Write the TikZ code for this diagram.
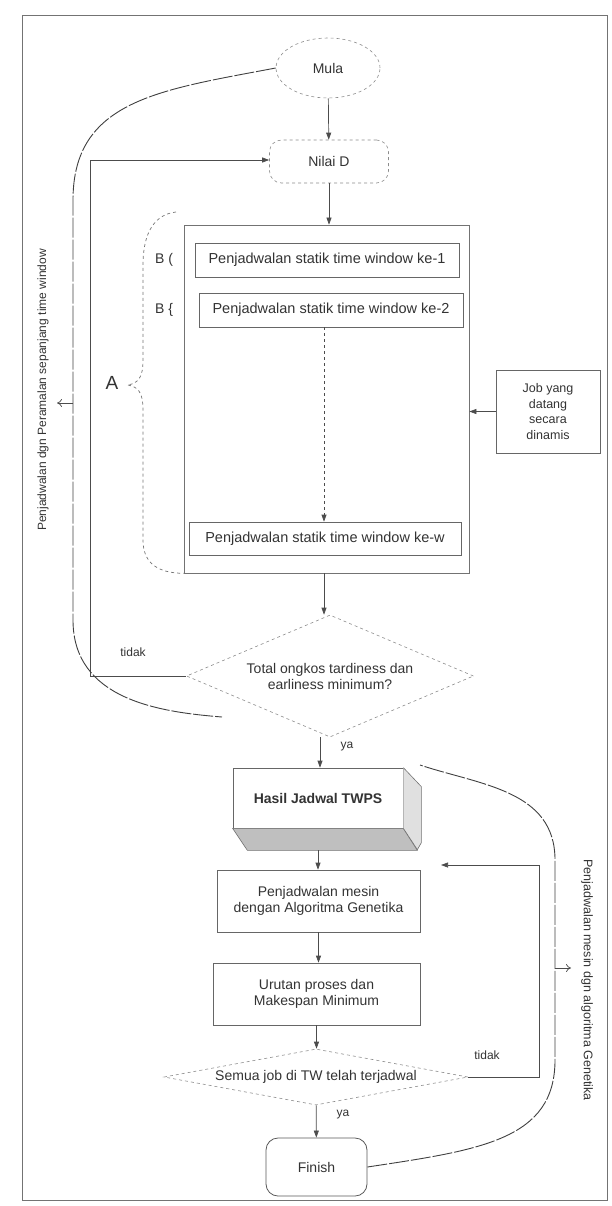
\documentclass[tikz,border=0pt]{standalone}
\usepackage{fontspec}
\setmainfont{Liberation Sans}
\usetikzlibrary{shapes.geometric,arrows.meta}
\begin{document}
\begin{tikzpicture}[x=1pt,y=-1pt,
  every node/.style={font=\fontsize{14}{16}\selectfont, text=black!80},
  box/.style={draw=black!60, line width=0.7pt, minimum width=#1, inner sep=2pt, align=center},
  box/.default=200pt,
  dbox/.style={draw=black!45, dashed, line width=0.6pt, inner sep=1pt, align=center},
  arr/.style={draw=black!70, line width=0.7pt, -{Triangle[length=7pt,width=5pt]}},
  ln/.style={draw=black!70, line width=0.7pt},
  fb/.style={draw=black!75, line width=0.9pt, dash pattern=on 20pt off 2pt},
  opn/.style={draw=black!70, line width=0.7pt, -{To[length=5pt,width=8pt]}},
  lbl/.style={font=\fontsize{12}{14}\selectfont}
]
\useasboundingbox (0,0) rectangle (612,1206);
% outer frame
\draw[draw=black!55, line width=0.8pt] (22,15) rectangle (607,1200);

% nodes
\node[dbox, ellipse, minimum width=104pt, minimum height=60pt] (mula) at (328,68) {Mula};
\node[dbox, rounded corners=12pt, minimum width=119pt, minimum height=43pt] (nilai) at (329,161.5) {Nilai D};
\node[draw=black!55, line width=0.7pt, minimum width=285pt, minimum height=348pt, inner sep=0pt] (big) at (326.5,399) {};
\node[box=264pt, minimum height=34pt, font=\fontsize{14.5}{16}\selectfont] (b1) at (327,260) {Penjadwalan statik time window ke-1};
\node[box=264pt, minimum height=34pt, font=\fontsize{14.5}{16}\selectfont] (b2) at (331,310) {Penjadwalan statik time window ke-2};
\node[box=272pt, minimum height=33pt, font=\fontsize{14.5}{16}\selectfont] (bw) at (325,538.5) {Penjadwalan statik time window ke-w};
\node[box=104pt, minimum height=83pt, font=\fontsize{12.5}{15.5}\selectfont] (job) at (548,411.5) {Job yang\\datang\\secara\\dinamis};
\node[dbox, diamond, aspect=2.35, minimum width=287pt, minimum height=122pt, inner sep=0pt] (d1) at (330,676) {Total ongkos tardiness dan\\earliness minimum?};
\node[draw=black!60, line width=0.7pt, minimum width=170pt, minimum height=60pt, font=\fontsize{14}{16}\selectfont\bfseries] (hasil) at (318,798) {Hasil Jadwal TWPS};
\node[box=203pt, minimum height=62pt] (mesin) at (318.5,901) {Penjadwalan mesin\\dengan Algoritma Genetika};
\node[box=207pt, minimum height=62pt] (urutan) at (316.5,994) {Urutan proses dan\\Makespan Minimum};
\node[dbox, diamond, aspect=5.4, minimum width=304pt, minimum height=56pt, inner sep=0pt] (d2) at (316,1077) {Semua job di TW telah terjadwal};
\node[draw=black!65, line width=0.8pt, rounded corners=12pt, minimum width=101pt, minimum height=58pt] (finish) at (316.5,1167) {Finish};

% 3D bevel of Hasil
\fill[black!25] (hasil.south west) -- (hasil.south east) -- ++(14,22) -- ++(-170,0) -- cycle;
\draw[draw=black!55, line width=0.6pt] (hasil.south west) -- (hasil.south east) -- ++(14,22) -- ++(-170,0) -- cycle;
\fill[black!12] (hasil.north east) -- ++(18,19) -- ++(0,56) -- ++(-4,7) -- (hasil.south east) -- cycle;
\draw[draw=black!55, line width=0.6pt] (hasil.north east) -- ++(18,19) -- ++(0,56) -- ++(-4,7) -- (hasil.south east);
\coordinate (hasilbot) at (318,850);

% labels
\node (lB1) at (164,260) {B (};
\node (lB2) at (164,310) {B \{};
\node[font=\fontsize{19}{21}\selectfont] (lA) at (112,383) {A};
\node[lbl] (ltidak1) at (133,652) {tidak};
\node[lbl] (lya1) at (347,747) {ya};
\node[lbl] (ltidak2) at (487,1055) {tidak};
\node[lbl] (lya2) at (343,1115) {ya};
\node[rotate=90, font=\fontsize{12}{14}\selectfont] (lleft) at (43,390) {Penjadwalan dgn Peramalan sepanjang time window};
\node[rotate=-90, font=\fontsize{12.5}{14}\selectfont] (lright) at (587,980) {Penjadwalan mesin dgn algoritma Genetika};

% brace A
\coordinate (brtop) at (176,212);
\coordinate (brtip) at (128,385);
\draw[draw=black!55, dashed, line width=0.7pt] (brtop) .. controls (150,215) and (143,240) .. (143,265) -- (143,360) .. controls (143,378) and (138,383) .. (brtip);
\draw[draw=black!55, dashed, line width=0.7pt] (brtip) .. controls (138,387) and (143,392) .. (143,410) -- (143,540) .. controls (143,565) and (160,573) .. (big.south west);

% main arrows
\draw[arr] (mula) -- (nilai);
\draw[arr] (nilai) -- (nilai |- big.north);
\draw[arr, dashed] (b2.south -| 324,0) -- (bw.north -| 324,0);
\draw[arr] (job.west) -- (big.east |- job.west);
\draw[arr] (big.south -| 324,0) -- (d1.north -| 324,0);
\draw[arr] (d1.south -| 320,0) -- (hasil.north -| 320,0);
\draw[arr] (hasilbot) -- (hasilbot |- mesin.north);
\draw[arr] (mesin) -- (mesin |- urutan.north);
\draw[arr] (urutan) -- (urutan |- d2.north);
\draw[arr] (d2) -- (finish);

% tidak loop top
\coordinate (t1a) at (90,676);
\coordinate (t1b) at (90,160);
\draw[arr] (d1.west) -- (t1a) -- (t1b) -- (nilai.west |- t1b);

% tidak loop bottom
\coordinate (t2a) at (539,1077);
\coordinate (t2b) at (539,865);
\coordinate (t2c) at (441,865);
\draw[arr] (d2.east) -- (t2a) -- (t2b) -- (t2c);

% big feedback curves
\coordinate (fbend1) at (222,717);
\draw[fb] (mula.west) .. controls (160,90) and (73,100) .. (73,200) -- (73,620) .. controls (73,700) and (160,712) .. (fbend1);
\coordinate (la) at (73,403);
\coordinate (lb) at (57,403);
\draw[opn] (la) -- (lb);

\coordinate (fbend2) at (420,765);
\draw[fb] (finish.east) .. controls (480,1150) and (555,1140) .. (555,1060) -- (555,860) .. controls (555,790) and (480,785) .. (fbend2);
\coordinate (ra) at (555,968);
\coordinate (rb) at (571,968);
\draw[opn] (ra) -- (rb);
\end{tikzpicture}
\end{document}
